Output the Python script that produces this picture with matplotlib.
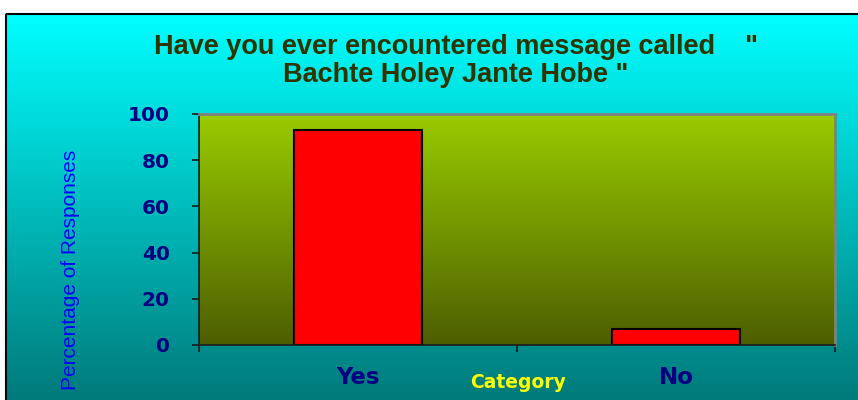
import matplotlib
matplotlib.use("Agg")
import matplotlib.pyplot as plt
import numpy as np
from matplotlib.colors import LinearSegmentedColormap
from matplotlib.patches import Rectangle

categories = ["Yes", "No"]
percent = [93, 7]
yticks = [0, 20, 40, 60, 80, 100]

title = 'Have you ever encountered message called    "\nBachte Holey Jante Hobe "'

W, H = 858, 400
fig = plt.figure(figsize=(W / 100, H / 100), dpi=100)
fig.patch.set_facecolor("white")

# chart area background: cyan fading down to teal, with a black frame
bg = fig.add_axes([0, 0, 1, 1], zorder=0)
bg.set_xlim(0, W)
bg.set_ylim(H, 0)
bg.axis("off")
cyan = LinearSegmentedColormap.from_list("cy", ["#00ffff", "#007878"])
grad = np.linspace(0, 1, 256).reshape(-1, 1)
bg.imshow(grad, cmap=cyan, extent=[5, W + 5, H + 5, 13], aspect="auto")
bg.add_patch(Rectangle((5.5, 13.5), W, H, fill=False, ec="black", lw=1.5))

ax = fig.add_axes([199 / W, 55 / H, 636 / W, 231 / H], zorder=1)
olive = LinearSegmentedColormap.from_list("ol", ["#99cc00", "#4d5e00"])
ax.imshow(grad, cmap=olive, extent=[0, 2, 0, 100], aspect="auto", zorder=0)

x = np.arange(len(categories)) + 0.5
ax.bar(x, percent, width=0.4, color="#ff0000", edgecolor="black", lw=1.5, zorder=2)
ax.set_xlim(0, 2)
ax.set_ylim(0, 100)

for s in ["left", "bottom"]:
    ax.spines[s].set_color("#1a1a1a")
    ax.spines[s].set_linewidth(1.2)
for s in ["top", "right"]:
    ax.spines[s].set_color("#808080")
    ax.spines[s].set_linewidth(2)

ax.set_yticks(yticks)
ax.set_yticklabels([str(v) for v in yticks])
ax.tick_params(axis="y", direction="out", length=5, width=1.2, color="#1a1a1a",
               pad=16, labelsize=14.5, labelcolor="#000080")
ax.set_xticks([0, 1, 2])
ax.set_xticklabels([])
ax.set_xticks(x, minor=True)
ax.set_xticklabels(categories, minor=True)
ax.tick_params(axis="x", which="major", direction="out", length=5, width=1.2, color="#1a1a1a")
ax.tick_params(axis="x", which="minor", length=0, pad=15, labelsize=16.5, labelcolor="#000080")
for lab in ax.get_yticklabels() + ax.get_xticklabels(minor=True):
    lab.set_fontweight("bold")
    lab.set_family("DejaVu Sans")

fig.text(456 / W, 1 - 61 / H, title, ha="center", va="center", fontsize=19.5,
         fontweight="bold", color="#333300", linespacing=1.12,
         family="Liberation Sans")
fig.text(518 / W, 1 - 382 / H, "Category", ha="center", va="center", fontsize=13.5,
         fontweight="bold", color="#ffff00", family="DejaVu Sans")
fig.text(70 / W, 1 - 270 / H, "Percentage of Responses", ha="center", va="center",
         rotation=90, fontsize=15, color="#0000ff", family="Liberation Sans")

fig.savefig("out.png", dpi=100)
